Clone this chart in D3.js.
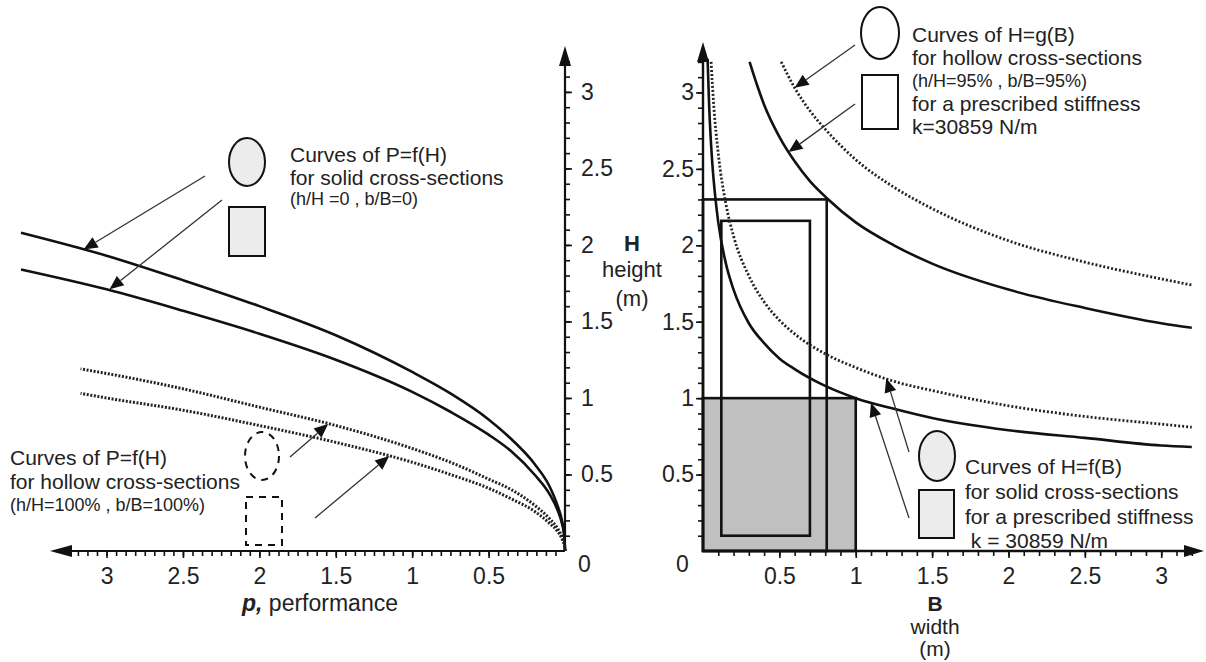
<!DOCTYPE html>
<html><head><meta charset="utf-8">
<script src="https://cdn.jsdelivr.net/npm/d3@7"></script>
<style>
html,body{margin:0;background:#fff;}
svg{display:block;font-family:'Liberation Sans',Arial,sans-serif;}
.tick text{font-size:23px;fill:#222;font-family:'Liberation Sans',Arial,sans-serif;}
.tick line{stroke:#111;stroke-width:1.6;}
</style></head><body>
<svg id="chart" width="1206" height="662"></svg>
<script>
/* ---- left panel: P=f(H), p performance vs H height ---- */
const pGridSolid  = [0, 0.005, 0.02, 0.05, 0.1, 0.2, 0.35, 0.5, 0.75, 1, 1.5, 2, 2.5, 3, 3.56];
const hSolidRect  = [0, 0.11, 0.2, 0.3, 0.42, 0.57, 0.73, 0.86, 1.03, 1.17, 1.41, 1.6, 1.77, 1.93, 2.08];
const hSolidEll   = [0, 0.1, 0.18, 0.27, 0.37, 0.5, 0.65, 0.76, 0.91, 1.04, 1.25, 1.42, 1.57, 1.71, 1.84];
const pGridHollow = [0, 0.005, 0.02, 0.05, 0.1, 0.2, 0.35, 0.5, 0.75, 1, 1.5, 2, 2.5, 3, 3.17];
const hHollowA    = [0, 0.047, 0.094, 0.15, 0.21, 0.3, 0.4, 0.47, 0.58, 0.67, 0.82, 0.94, 1.06, 1.16, 1.19];
const hHollowB    = [0, 0.04, 0.08, 0.13, 0.18, 0.26, 0.34, 0.41, 0.5, 0.58, 0.71, 0.82, 0.92, 1.0, 1.03];
const pTickLabels = [0.5, 1, 1.5, 2, 2.5, 3];
const hTickLabels = [0.5, 1, 1.5, 2, 2.5, 3];

/* ---- right panel: H=f(B) / H=g(B) for prescribed stiffness ---- */
const bSolidF = [0.03, 0.04, 0.06, 0.08, 0.1, 0.15, 0.2, 0.3, 0.4, 0.5, 0.6, 0.8, 1.0, 1.25, 1.5, 2.0, 2.5, 3.0, 3.2];
const hSolidF = [3.22, 2.92, 2.55, 2.32, 2.15, 1.88, 1.71, 1.49, 1.36, 1.26, 1.19, 1.08, 1.0, 0.93, 0.87, 0.79, 0.74, 0.69, 0.68];
const bDotF   = [0.053, 0.07, 0.1, 0.15, 0.2, 0.3, 0.4, 0.5, 0.6, 0.8, 1.0, 1.25, 1.5, 2.0, 2.5, 3.0, 3.2];
const hDotF   = [3.2, 2.92, 2.6, 2.27, 2.06, 1.8, 1.63, 1.51, 1.42, 1.29, 1.2, 1.11, 1.05, 0.95, 0.88, 0.83, 0.81];
const bSolidG = [0.305, 0.35, 0.4, 0.5, 0.6, 0.7, 0.82, 1.0, 1.25, 1.5, 2.0, 2.5, 3.0, 3.2];
const hSolidG = [3.2, 3.06, 2.92, 2.71, 2.55, 2.42, 2.3, 2.15, 2.0, 1.88, 1.71, 1.59, 1.49, 1.46];
const bDotG   = [0.512, 0.6, 0.7, 0.8, 1.0, 1.25, 1.5, 2.0, 2.5, 3.0, 3.2];
const hDotG   = [3.2, 3.03, 2.88, 2.76, 2.56, 2.38, 2.24, 2.03, 1.89, 1.78, 1.74];
const bTickLabels = [0.5, 1, 1.5, 2, 2.5, 3];
// cross-section rectangles: solid square, hollow outer, hollow inner
const secB0 = [0, 0, 0.12];
const secB1 = [1.0, 0.81, 0.70];
const secH0 = [0, 0, 0.10];
const secH1 = [1.0, 2.3, 2.16];

const svg = d3.select('#chart');
const xL = d3.scaleLinear().domain([0, 3.37]).range([565, 50]);
const yL = d3.scaleLinear().domain([0, 3.3]).range([551, 46]);
const xR = d3.scaleLinear().domain([0, 3.28]).range([703, 1204]);
const yR = d3.scaleLinear().domain([0, 3.33]).range([551, 42]);

const ink = '#111';

function arrowHead(g, x1, y1, x2, y2, len, w) {
  const a = Math.atan2(y2 - y1, x2 - x1);
  const bx = x2 - len * Math.cos(a), by = y2 - len * Math.sin(a);
  const nx = -Math.sin(a) * w, ny = Math.cos(a) * w;
  g.append('path').attr('d', `M${x2},${y2}L${bx+nx},${by+ny}L${bx-nx},${by-ny}Z`).attr('fill', ink);
  return [bx, by];
}
function pointer(g, x1, y1, x2, y2) {
  const [bx, by] = arrowHead(g, x1, y1, x2, y2, 14, 6);
  g.append('line').attr('x1', x1).attr('y1', y1).attr('x2', bx).attr('y2', by)
    .attr('stroke', '#333').attr('stroke-width', 1.3);
}
function textBlock(g, x, lines) {
  const t = g.append('text').attr('fill', '#222');
  lines.forEach(([s, y, size]) => t.append('tspan').attr('x', x).attr('y', y).attr('font-size', size).text(s));
  return t;
}

/* ---------- left panel ---------- */
const gL = svg.append('g');
gL.append('line').attr('x1', xL(0)).attr('y1', yL(0)).attr('x2', xL(3.3)).attr('y2', yL(0)).attr('stroke', ink).attr('stroke-width', 2.2);
arrowHead(gL, xL(0), yL(0), xL(3.37), yL(0), 22, 6);
gL.append('line').attr('x1', xL(0)).attr('y1', yL(0)).attr('x2', xL(0)).attr('y2', yL(3.24)).attr('stroke', ink).attr('stroke-width', 2.2);
arrowHead(gL, xL(0), yL(0), xL(0), yL(3.3), 20, 6);

gL.append('g').attr('transform', `translate(0,${yL(0)})`)
  .call(d3.axisBottom(xL).tickValues(d3.range(1/16, 3.3, 1/16)).tickSize(5).tickFormat(''))
  .call(g => g.select('.domain').remove());
gL.append('g').attr('transform', `translate(0,${yL(0)})`)
  .call(d3.axisBottom(xL).tickValues(pTickLabels).tickSize(7).tickPadding(10).tickFormat(d => String(d)))
  .call(g => g.select('.domain').remove());
gL.append('g').attr('transform', `translate(${xL(0)},0)`)
  .call(d3.axisRight(yL).tickValues(d3.range(0.1, 3.25, 0.1)).tickSize(5).tickFormat(''))
  .call(g => g.select('.domain').remove());
gL.append('g').attr('transform', `translate(${xL(0)},0)`)
  .call(d3.axisRight(yL).tickValues(hTickLabels).tickSize(7).tickPadding(9).tickFormat(d => String(d)))
  .call(g => g.select('.domain').remove());
gL.append('text').attr('x', xL(0) + 13).attr('y', yL(0) + 21).attr('font-size', 23).attr('fill', '#222').text('0');

const lineL = d3.line().x(d => xL(d[0])).y(d => yL(d[1])).curve(d3.curveMonotoneX);
const zip = (a, b) => a.map((v, i) => [v, b[i]]);
gL.append('path').attr('d', lineL(zip(pGridSolid, hSolidRect))).attr('fill', 'none').attr('stroke', ink).attr('stroke-width', 2.6);
gL.append('path').attr('d', lineL(zip(pGridSolid, hSolidEll))).attr('fill', 'none').attr('stroke', ink).attr('stroke-width', 2.6);
gL.append('path').attr('d', lineL(zip(pGridHollow, hHollowA))).attr('fill', 'none').attr('stroke', '#222').attr('stroke-width', 3).attr('stroke-dasharray', '2,1.6');
gL.append('path').attr('d', lineL(zip(pGridHollow, hHollowB))).attr('fill', 'none').attr('stroke', '#222').attr('stroke-width', 3).attr('stroke-dasharray', '2,1.6');

// top-left legend (solid sections)
gL.append('ellipse').attr('cx', 247).attr('cy', 162).attr('rx', 18).attr('ry', 24).attr('fill', '#ececec').attr('stroke', ink).attr('stroke-width', 2);
gL.append('rect').attr('x', 229).attr('y', 207).attr('width', 36).attr('height', 49).attr('fill', '#ececec').attr('stroke', ink).attr('stroke-width', 2);
textBlock(gL, 290, [['Curves of P=f(H)', 162, 21], ['for solid cross-sections', 185, 21], ['(h/H =0 , b/B=0)', 205, 18]]);
pointer(gL, 205, 176, xL(3.15), yL(1.97));
pointer(gL, 222, 200, xL(2.98), yL(1.71));

// bottom-left legend (hollow sections)
gL.append('ellipse').attr('cx', 262).attr('cy', 456).attr('rx', 17).attr('ry', 24).attr('fill', 'none').attr('stroke', ink).attr('stroke-width', 2).attr('stroke-dasharray', '7,6');
gL.append('rect').attr('x', 246).attr('y', 497).attr('width', 36).attr('height', 48).attr('fill', 'none').attr('stroke', ink).attr('stroke-width', 2).attr('stroke-dasharray', '7,6');
textBlock(gL, 10, [['Curves of P=f(H)', 465, 21], ['for hollow cross-sections', 489, 21], ['(h/H=100% , b/B=100%)', 511, 18]]);
pointer(gL, 290, 457, xL(1.55), yL(0.83));
pointer(gL, 315, 518, xL(1.15), yL(0.62));

// axis titles
const pt = gL.append('text').attr('x', 242).attr('y', 611).attr('font-size', 23).attr('fill', '#222');
pt.append('tspan').attr('font-weight', 'bold').attr('font-style', 'italic').text('p,');
pt.append('tspan').text(' performance');
const ht = gL.append('text').attr('text-anchor', 'middle').attr('fill', '#222').attr('font-size', 22);
ht.append('tspan').attr('x', 632).attr('y', 251).attr('font-weight', 'bold').text('H');
ht.append('tspan').attr('x', 632).attr('y', 277).text('height');
ht.append('tspan').attr('x', 632).attr('y', 306).text('(m)');

/* ---------- right panel ---------- */
const gR = svg.append('g');
gR.selectAll('rect.sec').data([0, 1, 2]).enter().append('rect').attr('class', 'sec')
  .attr('x', i => xR(secB0[i])).attr('y', i => yR(secH1[i]))
  .attr('width', i => xR(secB1[i]) - xR(secB0[i])).attr('height', i => yR(secH0[i]) - yR(secH1[i]))
  .attr('fill', i => i === 0 ? '#c0c0c0' : 'none').attr('stroke', ink).attr('stroke-width', 2.6);

gR.append('line').attr('x1', xR(0)).attr('y1', yR(0)).attr('x2', xR(3.2)).attr('y2', yR(0)).attr('stroke', ink).attr('stroke-width', 2.4);
arrowHead(gR, xR(0), yR(0), xR(3.28), yR(0), 20, 6);
gR.append('line').attr('x1', xR(0)).attr('y1', yR(0)).attr('x2', xR(0)).attr('y2', yR(3.25)).attr('stroke', ink).attr('stroke-width', 2.4);
arrowHead(gR, xR(0), yR(0), xR(0), yR(3.33), 20, 6);

gR.append('g').attr('transform', `translate(0,${yR(0)})`)
  .call(d3.axisBottom(xR).tickValues(d3.range(0.1, 3.25, 0.1)).tickSize(5).tickFormat(''))
  .call(g => g.select('.domain').remove());
gR.append('g').attr('transform', `translate(0,${yR(0)})`)
  .call(d3.axisBottom(xR).tickValues(bTickLabels).tickSize(7).tickPadding(10).tickFormat(d => String(d)))
  .call(g => g.select('.domain').remove());
gR.append('g').attr('transform', `translate(${xR(0)},0)`)
  .call(d3.axisLeft(yR).tickValues(d3.range(0.1, 3.25, 0.1)).tickSize(5).tickFormat(''))
  .call(g => g.select('.domain').remove());
gR.append('g').attr('transform', `translate(${xR(0)},0)`)
  .call(d3.axisLeft(yR).tickValues(hTickLabels).tickSize(7).tickPadding(2).tickFormat(d => String(d)))
  .call(g => g.select('.domain').remove());
gR.append('text').attr('x', xR(0) - 27).attr('y', yR(0) + 21).attr('font-size', 23).attr('fill', '#222').text('0');

const lineR = d3.line().x(d => xR(d[0])).y(d => yR(d[1])).curve(d3.curveMonotoneX);
gR.append('path').attr('d', lineR(zip(bSolidF, hSolidF))).attr('fill', 'none').attr('stroke', ink).attr('stroke-width', 2.6);
gR.append('path').attr('d', lineR(zip(bDotF, hDotF))).attr('fill', 'none').attr('stroke', '#222').attr('stroke-width', 2.8).attr('stroke-dasharray', '2,2');
gR.append('path').attr('d', lineR(zip(bSolidG, hSolidG))).attr('fill', 'none').attr('stroke', ink).attr('stroke-width', 2.6);
gR.append('path').attr('d', lineR(zip(bDotG, hDotG))).attr('fill', 'none').attr('stroke', '#222').attr('stroke-width', 2.8).attr('stroke-dasharray', '2,2');

// top-right legend (hollow, g)
gR.append('ellipse').attr('cx', 880).attr('cy', 33).attr('rx', 19).attr('ry', 26).attr('fill', '#fff').attr('stroke', ink).attr('stroke-width', 2);
gR.append('rect').attr('x', 862).attr('y', 75).attr('width', 36).attr('height', 54).attr('fill', '#fff').attr('stroke', ink).attr('stroke-width', 2);
textBlock(gR, 912, [['Curves of H=g(B)', 42, 21], ['for hollow cross-sections', 65, 21], ['(h/H=95% , b/B=95%)', 87, 18],
  ['for a prescribed stiffness', 111, 21], ['k=30859 N/m', 134, 21]]);
pointer(gR, 855, 45, xR(0.6), yR(3.03));
pointer(gR, 855, 104, xR(0.56), yR(2.61));

// bottom-right legend (solid, f)
gR.append('ellipse').attr('cx', 937).attr('cy', 456).attr('rx', 18).attr('ry', 25).attr('fill', '#ececec').attr('stroke', ink).attr('stroke-width', 2);
gR.append('rect').attr('x', 919).attr('y', 490).attr('width', 35).attr('height', 48).attr('fill', '#ececec').attr('stroke', ink).attr('stroke-width', 2);
textBlock(gR, 965, [['Curves of H=f(B)', 474, 21], ['for solid cross-sections', 499, 21], ['for a prescribed stiffness', 524, 21], ['\u00a0k = 30859 N/m', 548, 21]]);
pointer(gR, 909, 452, xR(1.2), yR(1.13));
pointer(gR, 909, 518, xR(1.1), yR(0.97));

const bt = gR.append('text').attr('text-anchor', 'middle').attr('fill', '#222').attr('font-size', 21);
bt.append('tspan').attr('x', xR(1.5) + 3).attr('y', 611).attr('font-weight', 'bold').text('B');
bt.append('tspan').attr('x', xR(1.5) + 3).attr('y', 634).text('width');
bt.append('tspan').attr('x', xR(1.5) + 3).attr('y', 656).text('(m)');
</script>
</body></html>
